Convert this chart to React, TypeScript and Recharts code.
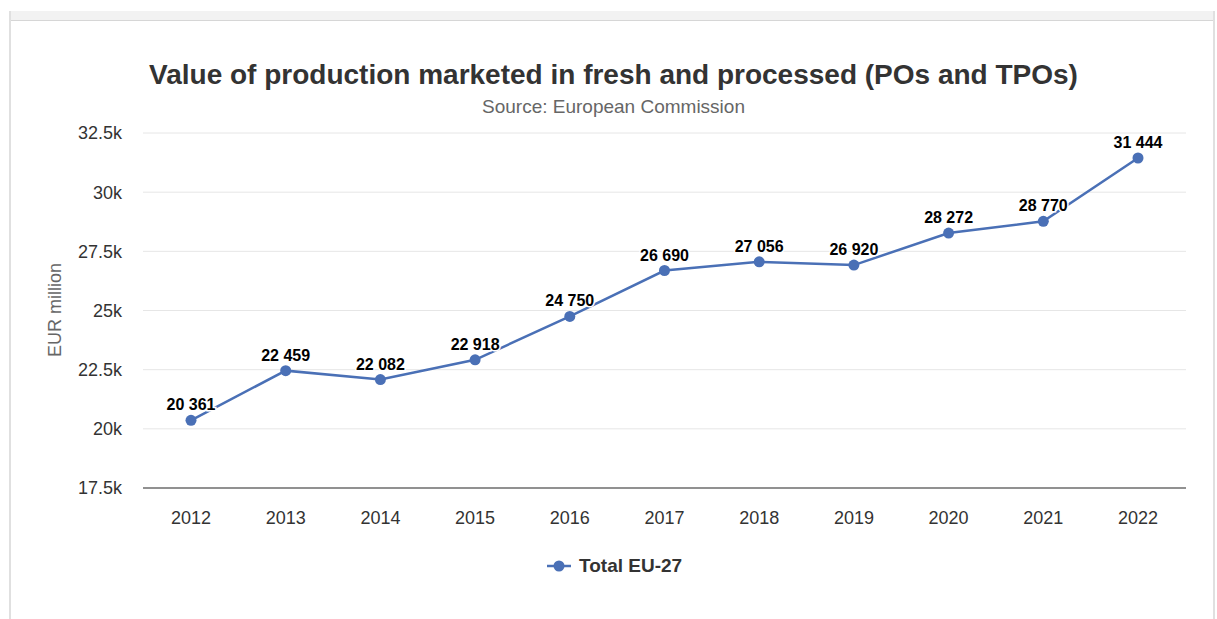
import React from 'react';
import { LineChart, Line, XAxis, YAxis, CartesianGrid, LabelList } from 'recharts';

const years = ['2012', '2013', '2014', '2015', '2016', '2017', '2018', '2019', '2020', '2021', '2022'];
const totalEU27 = [20361, 22459, 22082, 22918, 24750, 26690, 27056, 26920, 28272, 28770, 31444];
const yTicks = [17500, 20000, 22500, 25000, 27500, 30000, 32500];

const data = years.map((y, i) => ({ year: y, total: totalEU27[i] }));

const FONT = '"Liberation Sans", Arial, Helvetica, sans-serif';
const LINE_COLOR = '#4a70b6';

const fmtK = (v: number) => `${v / 1000}k`;
const fmtSpace = (v: any) => String(v).replace(/\B(?=(\d{3})+(?!\d))/g, ' ');

export default function App() {
  return (
    <div style={{ position: 'absolute', left: 0, top: 0, width: 1217, height: 619, background: '#fff', fontFamily: FONT, overflow: 'hidden' }}>
      <div style={{ position: 'absolute', left: 9, top: 11, width: 1206, height: 9, background: '#f2f2f2', borderBottom: '1px solid #d6d6d6' }} />
      <div style={{ position: 'absolute', left: 9, top: 11, width: 2, height: 608, background: '#e0e0e0' }} />
      <div style={{ position: 'absolute', left: 1213, top: 11, width: 2, height: 608, background: '#e0e0e0' }} />
      <div style={{ position: 'absolute', left: 0, top: 0, width: 1217, height: 619 }}>
        <LineChart width={1217} height={619} data={data} margin={{ top: 133, right: 31, left: 0, bottom: 0 }}>
          <CartesianGrid horizontal vertical={false} stroke="#e6e6e6" />
          <XAxis
            dataKey="year"
            height={131}
            padding={{ left: 48, right: 48 }}
            tickLine={false}
            tickSize={0}
            tickMargin={23}
            axisLine={{ stroke: '#707070', strokeWidth: 1.5 }}
            tick={{ fill: '#333', fontSize: 18, fontFamily: FONT }}
          />
          <YAxis
            width={143}
            domain={[17500, 32500]}
            ticks={yTicks}
            tickFormatter={fmtK}
            axisLine={false}
            tickLine={false}
            tickSize={0}
            tickMargin={21}
            tick={{ fill: '#333', fontSize: 18, fontFamily: FONT }}
          />
          <Line
            type="linear"
            dataKey="total"
            stroke={LINE_COLOR}
            strokeWidth={2.5}
            dot={{ r: 5.5, fill: LINE_COLOR, stroke: LINE_COLOR, strokeWidth: 0 }}
            isAnimationActive={false}
          >
            <LabelList
              dataKey="total"
              position="top"
              offset={10}
              formatter={fmtSpace}
              style={{ fill: '#000', fontWeight: 700, fontSize: 16, fontFamily: FONT, stroke: '#fff', strokeWidth: 3, paintOrder: 'stroke' } as any}
            />
          </Line>
        </LineChart>
      </div>
      <div style={{ position: 'absolute', left: 0, top: 58, width: 1227, textAlign: 'center', fontSize: 28, fontWeight: 700, color: '#333', lineHeight: '34px' }}>
        Value of production marketed in fresh and processed (POs and TPOs)
      </div>
      <div style={{ position: 'absolute', left: 0, top: 96, width: 1227, textAlign: 'center', fontSize: 19, color: '#666', lineHeight: '22px' }}>
        Source: European Commission
      </div>
      <div style={{ position: 'absolute', left: 55, top: 310, width: 0, height: 0 }}>
        <div style={{ position: 'absolute', left: 0, top: 0, transform: 'translate(-50%, -50%) rotate(-90deg)', whiteSpace: 'nowrap', fontSize: 18, color: '#666' }}>
          EUR million
        </div>
      </div>
      <div style={{ position: 'absolute', left: 546, top: 556, display: 'flex', alignItems: 'center', height: 20 }}>
        <svg width={26} height={20}>
          <line x1={1} y1={10} x2={25} y2={10} stroke={LINE_COLOR} strokeWidth={2.5} />
          <circle cx={13} cy={10} r={5.5} fill={LINE_COLOR} />
        </svg>
        <span style={{ marginLeft: 7, fontSize: 19, fontWeight: 700, color: '#333' }}>Total EU-27</span>
      </div>
    </div>
  );
}
